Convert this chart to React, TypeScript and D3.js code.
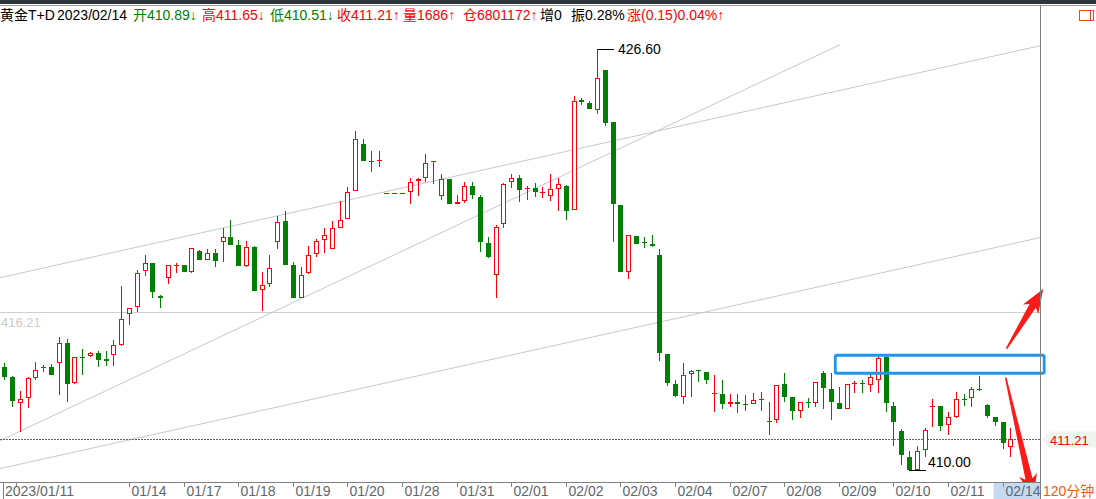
import * as d3 from 'd3';

// 120分钟 K 线，黄金T+D，130 根
const OPEN = [
  414.06, 413.64, 412.63, 412.83, 413.61, 413.99, 414.06, 414.20, 414.99, 413.42,
  414.45, 414.48, 414.60, 414.35, 414.52, 414.93, 416.14, 416.40, 417.84, 418.16,
  416.86, 417.56, 418.07, 418.08, 417.81, 418.63, 418.28, 418.54, 418.96, 419.18,
  418.87, 418.05, 418.79, 417.08, 417.33, 418.96, 419.79, 418.06, 416.75, 417.74,
  418.50, 419.05, 418.70, 419.55, 419.88, 420.98, 422.84, 422.14, 422.21, 420.91,
  420.91, 420.91, 420.94, 421.39, 421.50, 422.14, 420.78, 421.47, 420.47, 420.58,
  421.20, 420.76, 418.95, 417.68, 419.69, 421.35, 421.50, 421.05, 421.11, 420.90,
  420.78, 421.06, 421.20, 420.25, 424.58, 424.47, 424.18, 425.77, 423.72, 420.45,
  417.80, 419.23, 418.99, 418.88, 418.47, 414.56, 413.38, 412.85, 413.77, 413.92,
  413.86, 412.97, 412.99, 412.57, 412.67, 412.58, 412.59, 412.76, 411.86, 411.96,
  413.36, 412.85, 412.31, 412.68, 412.63, 413.82, 413.19, 412.64, 412.38, 413.37,
  413.41, 413.34, 413.55, 414.43, 412.52, 411.51, 410.51, 410.00, 410.78, 412.46,
  412.52, 411.77, 412.09, 412.80, 412.83, 413.19, 412.56, 412.09, 411.86, 410.89,
];
const HIGH = [
  414.19, 413.68, 413.09, 413.64, 414.26, 414.13, 414.17, 415.24, 415.15, 414.45,
  414.74, 414.65, 414.69, 414.69, 415.13, 417.25, 416.37, 417.88, 418.47, 418.16,
  416.90, 418.07, 418.16, 418.08, 418.74, 418.67, 418.70, 418.70, 419.52, 419.85,
  419.05, 419.02, 418.84, 417.81, 418.47, 420.02, 420.22, 418.17, 417.98, 418.83,
  419.09, 419.52, 419.82, 420.61, 421.13, 423.37, 423.04, 422.58, 422.58, 420.91,
  420.91, 420.91, 421.50, 421.50, 422.45, 422.18, 421.66, 421.47, 420.85, 421.36,
  421.36, 420.85, 419.16, 419.66, 421.31, 421.68, 421.63, 421.20, 421.29, 421.13,
  421.66, 421.50, 421.24, 424.75, 424.66, 424.54, 426.60, 425.77, 423.72, 420.45,
  419.25, 419.23, 419.16, 419.27, 418.70, 414.56, 413.55, 414.21, 413.94, 413.94,
  413.86, 413.75, 413.55, 412.99, 412.99, 412.96, 413.04, 413.07, 412.65, 413.35,
  413.80, 412.85, 412.67, 412.81, 413.46, 413.90, 413.82, 413.27, 413.38, 413.48,
  413.54, 413.84, 414.49, 414.49, 412.68, 411.60, 410.75, 410.94, 411.65, 412.78,
  412.52, 412.29, 413.07, 412.98, 413.27, 413.71, 412.59, 412.09, 411.86, 411.65,
];
const LOW = [
  413.55, 412.46, 411.49, 412.43, 413.52, 413.90, 413.75, 412.93, 412.65, 413.38,
  413.78, 414.43, 414.03, 414.07, 414.07, 414.86, 415.69, 416.20, 417.62, 416.75,
  416.36, 417.31, 417.81, 417.81, 417.74, 418.25, 418.28, 417.98, 418.17, 418.87,
  418.05, 417.98, 417.05, 416.24, 417.19, 418.70, 418.06, 416.75, 416.75, 417.72,
  418.37, 418.56, 418.70, 419.55, 419.88, 420.98, 422.16, 421.76, 421.97, 420.91,
  420.91, 420.91, 420.48, 420.80, 421.33, 421.29, 420.65, 420.47, 420.47, 420.50,
  420.69, 418.60, 418.33, 416.75, 419.55, 421.09, 420.57, 420.66, 420.77, 420.77,
  420.58, 420.22, 419.85, 420.25, 424.38, 424.21, 424.03, 423.57, 418.96, 417.78,
  417.52, 418.90, 418.77, 418.80, 414.27, 413.28, 412.85, 412.57, 412.85, 413.48,
  413.36, 412.33, 412.41, 412.46, 412.25, 412.37, 412.57, 412.37, 411.40, 411.84,
  412.65, 411.96, 412.05, 412.46, 412.46, 412.38, 411.96, 412.38, 412.38, 413.08,
  413.08, 413.08, 413.03, 412.28, 410.94, 410.20, 410.00, 410.00, 410.48, 411.73,
  411.53, 411.37, 412.02, 412.56, 412.48, 413.15, 412.02, 411.73, 410.81, 410.51,
];
const CLOSE = [
  413.64, 412.69, 412.79, 413.61, 413.93, 414.05, 413.75, 414.99, 413.38, 414.43,
  414.41, 414.60, 414.32, 414.28, 414.91, 415.94, 416.37, 417.75, 418.15, 416.99,
  416.75, 418.07, 418.09, 417.81, 418.74, 418.25, 418.54, 418.21, 419.18, 418.87,
  418.05, 418.79, 417.05, 417.29, 417.95, 419.76, 418.06, 416.75, 417.68, 418.46,
  419.02, 419.25, 419.52, 419.84, 420.96, 423.04, 422.16, 422.18, 422.23, 420.91,
  420.91, 420.91, 421.33, 421.47, 422.09, 422.18, 421.47, 420.47, 420.57, 421.19,
  420.82, 418.96, 418.37, 419.58, 421.27, 421.50, 421.03, 421.12, 420.94, 420.94,
  421.07, 421.27, 420.22, 424.55, 424.50, 424.21, 425.45, 423.66, 420.47, 417.78,
  419.25, 418.90, 418.95, 418.84, 414.58, 413.40, 412.89, 413.73, 413.90, 413.88,
  413.55, 413.01, 412.57, 412.67, 412.57, 412.54, 412.76, 412.80, 411.93, 413.35,
  412.86, 412.31, 412.67, 412.64, 413.46, 413.21, 412.65, 412.38, 413.38, 413.41,
  413.37, 413.67, 414.40, 412.61, 411.86, 410.58, 410.00, 410.75, 411.57, 412.52,
  411.73, 412.09, 412.79, 412.76, 413.18, 413.15, 412.10, 411.86, 411.04, 411.21,
];

const TICK_INDEX = [1.5, 16, 23, 30, 37, 44, 51, 58, 65, 72, 79, 86, 93, 100, 107, 114, 121, 128];
const TICK_LABELS = ['2023/01/11', '01/14', '01/17', '01/18', '01/19', '01/20', '01/28', '01/31', '02/01',
  '02/02', '02/03', '02/04', '02/07', '02/08', '02/09', '02/10', '02/11', '02/14'];

const REF_PRICE = 416.21;
const VOLUME = 1686;
const HOLD = 6801172;
const HOLD_CHANGE = 0;
const AMPLITUDE = 0.28;
const CHANGE = 0.15;
const CHANGE_PCT = 0.04;

// 画线工具：趋势线 [index, price]
const TREND_LINES = [
  [[-0.54, 417.57], [132.8, 426.72]],
  [[-0.54, 411.14], [107.15, 426.76]],
  [[-0.54, 410.04], [132.8, 419.15]],
];
const BOX = { from: 106.55, to: 133.33, top: 414.51, bottom: 413.8 };
const ARROWS = [
  [[128.5, 414.77], [133.2, 417.13]],
  [[128.4, 413.63], [131.96, 408.86]],
];

const W = 1096;
const H = 499;
const PLOT_R = 1040;
const AXIS_Y = 482;
const RED = '#ff0000';
const GREEN = '#008000';
const FONT = "'Liberation Sans', Arial, 'Noto Sans CJK SC', sans-serif";

const x = d3.scaleLinear().domain([0, OPEN.length - 1]).range([4.2, 1010.4]);
const y = d3.scaleLinear().domain([410, 426.6]).range([469.6, 48.8]);

function Candle({ i }: { i: number }) {
  const cx = Math.round(x(i));
  const o = OPEN[i], c = CLOSE[i];
  const up = c > o;
  const color = up ? RED : GREEN;
  const top = Math.round(y(Math.max(o, c)));
  const bot = Math.round(y(Math.min(o, c)));
  const yh = Math.round(y(HIGH[i]));
  const yl = Math.round(y(LOW[i]));
  const wx = cx + 0.5;
  if (bot - top <= 1) {
    return (
      <g>
        {yl > yh && <line x1={wx} x2={wx} y1={yh} y2={yl + 1} stroke={color} />}
        <line x1={cx - 2} x2={cx + 3} y1={top + 0.5} y2={top + 0.5} stroke={color} strokeWidth={yl > yh ? 1 : 1.5} />
      </g>
    );
  }
  if (up) {
    return (
      <g>
        {top > yh && <line x1={wx} x2={wx} y1={yh} y2={top} stroke={color} />}
        {yl > bot && <line x1={wx} x2={wx} y1={bot} y2={yl} stroke={color} />}
        <rect x={cx - 1.5} y={top + 0.5} width={4} height={bot - top - 1} fill="#fff" stroke={color} />
      </g>
    );
  }
  return (
    <g>
      <line x1={wx} x2={wx} y1={yh} y2={Math.max(yl, bot)} stroke={color} />
      <rect x={cx - 2} y={top} width={5} height={bot - top} fill={color} />
    </g>
  );
}

function arrowPath(a: number[], b: number[]) {
  const x0 = x(a[0]), y0 = y(a[1]), x1 = x(b[0]), y1 = y(b[1]);
  const len = Math.hypot(x1 - x0, y1 - y0);
  const ux = (x1 - x0) / len, uy = (y1 - y0) / len;
  const nx = -uy, ny = ux;
  const head = 20;
  const bx = x1 - ux * head, by = y1 - uy * head;
  const pts = [
    [x0 + nx * 0.8, y0 + ny * 0.8],
    [bx + nx * 3.6, by + ny * 3.6],
    [bx - ux * 4 + nx * 9, by - uy * 4 + ny * 9],
    [x1, y1],
    [bx - ux * 4 - nx * 9, by - uy * 4 - ny * 9],
    [bx - nx * 3.6, by - ny * 3.6],
    [x0 - nx * 0.8, y0 - ny * 0.8],
  ];
  return 'M' + pts.map((p) => `${p[0].toFixed(1)},${p[1].toFixed(1)}`).join('L') + 'Z';
}

export default function App() {
  const n = OPEN.length;
  const last = n - 1;
  const hiIdx = d3.maxIndex(HIGH);
  const loIdx = d3.minIndex(LOW);
  const refY = Math.round(y(REF_PRICE)) + 0.5;
  const lastY = Math.round(y(CLOSE[last])) + 0.5;

  const titleParts = [
    { t: '黄金T+D', c: '#000', x: 0 },
    { t: '2023/02/14', c: '#000', x: 57 },
    { t: `开${OPEN[last].toFixed(2)}↓`, c: GREEN, x: 133 },
    { t: `高${HIGH[last].toFixed(2)}↓`, c: RED, x: 202 },
    { t: `低${LOW[last].toFixed(2)}↓`, c: GREEN, x: 270 },
    { t: `收${CLOSE[last].toFixed(2)}↑`, c: RED, x: 337 },
    { t: `量${VOLUME}↑`, c: RED, x: 403 },
    { t: `仓${HOLD}↑`, c: RED, x: 463 },
    { t: `增${HOLD_CHANGE}`, c: '#000', x: 540 },
    { t: `振${AMPLITUDE.toFixed(2)}%`, c: '#000', x: 571 },
    { t: `涨(${CHANGE.toFixed(2)})${CHANGE_PCT.toFixed(2)}%↑`, c: RED, x: 627 },
  ];

  const lineGen = d3.line<number[]>().x((d) => x(d[0])).y((d) => y(d[1]));
  const lastTick = x(TICK_INDEX[TICK_INDEX.length - 1]);

  return (
    <svg width={W} height={H} style={{ position: 'absolute', left: 0, top: 0, background: '#fff' }}
      fontFamily={FONT}>
      <rect x={0} y={0} width={W} height={4} fill="#2f353d" />
      <line x1={0} x2={W} y1={5.5} y2={5.5} stroke="#a0a0a0" />

      {/* 参考线 */}
      <line x1={0} x2={PLOT_R} y1={refY} y2={refY} stroke="#cfcfcf" shapeRendering="crispEdges" />
      <text x={1} y={refY + 14} fontSize={13} fill="#cccccc">{REF_PRICE.toFixed(2)}</text>

      {TREND_LINES.map((l, k) => (
        <path key={k} d={lineGen(l) ?? ''} stroke="#c8c8c8" strokeWidth={1} fill="none" />
      ))}

      <line x1={0} x2={PLOT_R} y1={lastY} y2={lastY} stroke="#666" strokeDasharray="2,1" shapeRendering="crispEdges" />

      <g shapeRendering="crispEdges">
        {d3.range(n).map((i) => <Candle key={i} i={i} />)}
      </g>

      {/* 最高 / 最低 标注 */}
      <line x1={Math.round(x(hiIdx)) + 0.5} x2={x(hiIdx) + 17} y1={Math.round(y(HIGH[hiIdx])) + 0.5}
        y2={Math.round(y(HIGH[hiIdx])) + 0.5} stroke="#000" shapeRendering="crispEdges" />
      <text x={x(hiIdx) + 21} y={y(HIGH[hiIdx]) + 5.5} fontSize={14} fill="#000">{HIGH[hiIdx].toFixed(2)}</text>
      <line x1={x(loIdx)} x2={x(loIdx) + 17} y1={Math.round(y(LOW[loIdx])) + 0.5}
        y2={Math.round(y(LOW[loIdx])) + 0.5} stroke="#000" shapeRendering="crispEdges" />
      <text x={x(loIdx) + 19} y={y(LOW[loIdx]) - 3} fontSize={14} fill="#000">{LOW[loIdx].toFixed(2)}</text>

      <rect x={x(BOX.from)} y={y(BOX.top)} width={x(BOX.to) - x(BOX.from)} height={y(BOX.bottom) - y(BOX.top)}
        fill="none" stroke="#1e96f0" strokeWidth={2.8} rx={1.5} />
      {ARROWS.map((a, k) => <path key={k} d={arrowPath(a[0], a[1])} fill="#ff1a1a" />)}

      {/* 右轴 */}
      <line x1={PLOT_R + 0.5} x2={PLOT_R + 0.5} y1={5} y2={H} stroke="#808080" shapeRendering="crispEdges" />
      <path d={`M${PLOT_R + 2},${lastY} L${PLOT_R + 10},${lastY - 8} L${W},${lastY - 8} L${W},${lastY + 8} L${PLOT_R + 10},${lastY + 8}Z`}
        fill="#eef5ee" />
      <text x={PLOT_R + 10} y={lastY + 5} fontSize={13} fill={RED}>{CLOSE[last].toFixed(2)}</text>
      <rect x={1079.5} y={10.5} width={14} height={10} fill="none" stroke="#e8481c" shapeRendering="crispEdges" />
      <line x1={1090.5} x2={1090.5} y1={10.5} y2={20.5} stroke="#e8481c" shapeRendering="crispEdges" />

      {/* 时间轴 */}
      <rect x={lastTick - 9} y={AXIS_Y + 1} width={PLOT_R - lastTick + 9} height={H - AXIS_Y} fill="#c5daf0" />
      <line x1={0} x2={PLOT_R} y1={AXIS_Y + 0.5} y2={AXIS_Y + 0.5} stroke="#808080" shapeRendering="crispEdges" />
      <line x1={3.5} x2={3.5} y1={AXIS_Y} y2={H} stroke="#808080" shapeRendering="crispEdges" />
      {TICK_INDEX.map((t, k) => {
        const tx = Math.round(x(t)) + 0.5;
        return (
          <g key={k}>
            <line x1={tx} x2={tx} y1={AXIS_Y} y2={AXIS_Y + 5} stroke="#808080" shapeRendering="crispEdges" />
            <text x={k === 0 ? 5 : tx + 2} y={AXIS_Y + 14} fontSize={14} fill="#5f6670">{TICK_LABELS[k]}</text>
          </g>
        );
      })}
      <text x={PLOT_R + 3} y={AXIS_Y + 14} fontSize={14} fill="#f05a1e">120分钟</text>

      {/* 标题 */}
      {titleParts.map((p, k) => (
        <text key={k} x={p.x} y={20} fontSize={14} fill={p.c}>{p.t}</text>
      ))}
    </svg>
  );
}
